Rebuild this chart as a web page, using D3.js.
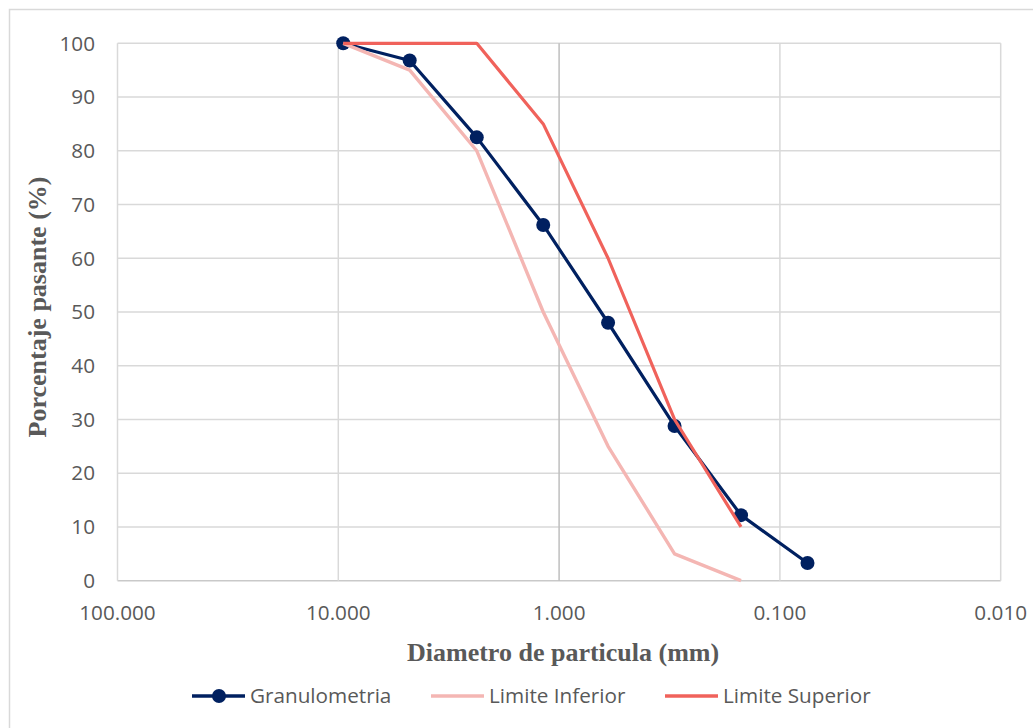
<!DOCTYPE html>
<html>
<head>
<meta charset="utf-8">
<script src="https://cdn.jsdelivr.net/npm/d3@7"></script>
<style>
  html, body { margin: 0; padding: 0; background: #ffffff; }
  svg { display: block; }
</style>
</head>
<body>
<svg id="chart" width="1033" height="728"></svg>
<script>
// ---- data ----
const diameters = [9.5, 4.75, 2.36, 1.18, 0.6, 0.3, 0.15, 0.075];
const granulometria = [100, 96.8, 82.5, 66.2, 48.0, 28.8, 12.2, 3.3];
const limiteDiameters = [9.5, 4.75, 2.36, 1.18, 0.6, 0.3, 0.15];
const limiteInferior = [100, 95, 80, 50, 25, 5, 0];
const limiteSuperior = [100, 100, 100, 85, 60, 30, 10];
const xTicks = [100, 10, 1, 0.1, 0.01];
const yTicks = [0, 10, 20, 30, 40, 50, 60, 70, 80, 90, 100];
const seriesNames = ["Granulometria", "Limite Inferior", "Limite Superior"];

// ---- layout ----
const svg = d3.select("#chart");
const W = 1033, H = 728;
const plot = { left: 117.5, right: 1000.7, top: 43.3, bottom: 580.7 };
const textColor = "#595959";
const gridColor = "#d9d9d9";
const colors = { gran: "#002060", inf: "#F4B6B3", sup: "#F0625B" };
const tickFont = "'Open Sans', 'Noto Sans', sans-serif";
const titleFont = "'Liberation Serif', 'Times New Roman', serif";
const tickSize = 20.7;
const titleSize = 26;

svg.append("rect").attr("x", 0).attr("y", 0).attr("width", W).attr("height", H).attr("fill", "#fff");
// outer chart frame (right/bottom edges fall outside the picture)
svg.append("rect").attr("x", 9.5).attr("y", 9.5).attr("width", W + 20).attr("height", H + 20)
  .attr("fill", "none").attr("stroke", "#d9d9d9").attr("stroke-width", 1.5);

const x = d3.scaleLog().domain([100, 0.01]).range([plot.left, plot.right]);
const y = d3.scaleLinear().domain([0, 100]).range([plot.bottom, plot.top]);

// horizontal gridlines
svg.append("g").selectAll("line").data(yTicks).join("line")
  .attr("x1", plot.left).attr("x2", plot.right)
  .attr("y1", d => y(d)).attr("y2", d => y(d))
  .attr("stroke", d => d === 0 ? "#c9c9c9" : gridColor).attr("stroke-width", 1.5);

// vertical gridlines (axis crosses at 1.0 -> darker)
svg.append("g").selectAll("line").data(xTicks).join("line")
  .attr("x1", d => x(d)).attr("x2", d => x(d))
  .attr("y1", plot.top).attr("y2", plot.bottom)
  .attr("stroke", d => d === 1 ? "#bfbfbf" : gridColor).attr("stroke-width", 1.5);

// y tick labels
svg.append("g").selectAll("text").data(yTicks).join("text")
  .attr("x", 95).attr("y", d => y(d)).attr("dy", "0.35em")
  .attr("text-anchor", "end")
  .attr("font-family", tickFont).attr("font-size", tickSize).attr("fill", textColor)
  .text(d => d);

// x tick labels
svg.append("g").selectAll("text").data(xTicks).join("text")
  .attr("x", d => x(d)).attr("y", 613).attr("dy", "0.35em")
  .attr("text-anchor", "middle")
  .attr("font-family", tickFont).attr("font-size", tickSize).attr("fill", textColor)
  .text(d => d3.format(".3f")(d));

// axis titles
svg.append("text")
  .attr("x", (plot.left + plot.right) / 2 + 4).attr("y", 652).attr("dy", "0.35em")
  .attr("text-anchor", "middle")
  .attr("font-family", titleFont).attr("font-weight", "bold").attr("font-size", titleSize)
  .attr("fill", textColor).text("Diametro de particula (mm)");

svg.append("text")
  .attr("transform", `translate(36.5, 307) rotate(-90)`)
  .attr("dy", "0.35em")
  .attr("text-anchor", "middle")
  .attr("font-family", titleFont).attr("font-weight", "bold").attr("font-size", titleSize)
  .attr("fill", textColor).text("Porcentaje pasante (%)");

// lines
const line = d3.line().x(d => x(d[0])).y(d => y(d[1]));
const granData = d3.zip(diameters, granulometria);
const infData = d3.zip(limiteDiameters, limiteInferior);
const supData = d3.zip(limiteDiameters, limiteSuperior);

svg.append("path").datum(granData).attr("d", line)
  .attr("fill", "none").attr("stroke", colors.gran).attr("stroke-width", 3.2)
  .attr("stroke-linejoin", "round");
svg.append("g").selectAll("circle").data(granData).join("circle")
  .attr("cx", d => x(d[0])).attr("cy", d => y(d[1])).attr("r", 7)
  .attr("fill", colors.gran);

svg.append("path").datum(infData).attr("d", line)
  .attr("fill", "none").attr("stroke", colors.inf).attr("stroke-width", 3.4)
  .attr("stroke-linejoin", "round");
svg.append("path").datum(supData).attr("d", line)
  .attr("fill", "none").attr("stroke", colors.sup).attr("stroke-width", 3.2)
  .attr("stroke-linejoin", "round");

// legend
const legendY = 696;
const legendItems = [
  { name: seriesNames[0], color: colors.gran, x0: 192, marker: true },
  { name: seriesNames[1], color: colors.inf, x0: 431, marker: false },
  { name: seriesNames[2], color: colors.sup, x0: 665, marker: false }
];
const lg = svg.append("g").selectAll("g").data(legendItems).join("g");
lg.append("line")
  .attr("x1", d => d.x0).attr("x2", d => d.x0 + 53)
  .attr("y1", legendY).attr("y2", legendY)
  .attr("stroke", d => d.color).attr("stroke-width", 3.4);
lg.filter(d => d.marker).append("circle")
  .attr("cx", d => d.x0 + 27).attr("cy", legendY).attr("r", 7).attr("fill", d => d.color);
lg.append("text")
  .attr("x", d => d.x0 + 58).attr("y", legendY).attr("dy", "0.35em")
  .attr("font-family", tickFont).attr("font-size", tickSize).attr("fill", textColor)
  .text(d => d.name);
</script>
</body>
</html>
